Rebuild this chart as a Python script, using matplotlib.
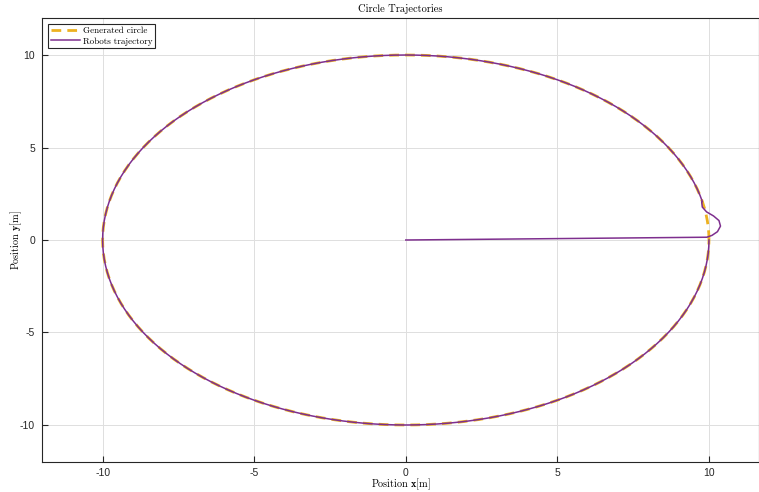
import numpy as np
import matplotlib.pyplot as plt

# Circle reference
radius = 10.0
circle_angle_deg = np.arange(0, 361, 1)

# Robot trajectory: straight run from origin, small loop near (10, 0), then the circle
robot_start_x = [0.0, 9.93, 10.10, 10.28, 10.38, 10.33, 10.15, 9.92, 9.78, 9.76]
robot_start_y = [0.0, 0.15, 0.25, 0.45, 0.75, 1.05, 1.30, 1.52, 1.78, 2.05]
robot_circle_angle_deg = np.arange(12, 361, 1)

ticks = [-10, -5, 0, 5, 10]

plt.rcParams['mathtext.fontset'] = 'cm'
serif = 'cmr10'

t = np.deg2rad(circle_angle_deg)
circle_x = radius * np.cos(t)
circle_y = radius * np.sin(t)

tr = np.deg2rad(robot_circle_angle_deg)
robot_x = np.concatenate([robot_start_x, radius * np.cos(tr)])
robot_y = np.concatenate([robot_start_y, radius * np.sin(tr)])

fig = plt.figure(figsize=(7.59, 4.92), dpi=100)
ax = fig.add_axes([0.0553, 0.061, 0.9447, 0.9024])

ax.plot(circle_x, circle_y, color='#EDB120', lw=2.0, dashes=(3.5, 2.2),
        label='Generated circle')
ax.plot(robot_x, robot_y, color='#7E2F8E', lw=1.1, label='Robots trajectory')

ax.set_xlim(-12, 11.65)
ax.set_ylim(-12, 12)
ax.set_xticks(ticks)
ax.set_yticks(ticks)
ax.set_xticklabels([str(v) for v in ticks])
ax.set_yticklabels([str(v) for v in ticks])
ax.tick_params(direction='in', length=4, width=0.8, labelsize=7.5,
               colors='#262626')
ax.tick_params(axis='x', pad=4)
ax.tick_params(axis='y', pad=5)
for lab in ax.get_xticklabels() + ax.get_yticklabels():
    lab.set_family('Liberation Sans')

ax.grid(True, color='#DFDFDF', lw=0.7)
ax.set_axisbelow(True)
for s in ax.spines.values():
    s.set_color('#262626')
    s.set_linewidth(0.8)

ax.set_title('Circle Trajectories', family=serif, fontsize=7.5, pad=4)
ax.set_xlabel(r'Position $\mathbf{x}$[m]', family=serif, fontsize=7.3)
ax.set_ylabel(r'Position $\mathbf{y}$[m]', family=serif, fontsize=7.3)
ax.xaxis.set_label_coords(0.5, -0.051)
ax.yaxis.set_label_coords(-0.036, 0.5)
ax.xaxis.label.set_va('center')
ax.yaxis.label.set_va('center')

leg = ax.legend(loc='upper left', prop={'family': serif, 'size': 6.5},
                fancybox=False, edgecolor='#262626', framealpha=1,
                borderpad=0.3, handlelength=3.2, handletextpad=0.3,
                labelspacing=0.2, borderaxespad=0.7)
leg.get_frame().set_linewidth(0.8)

fig.savefig('out.png', dpi=100)
